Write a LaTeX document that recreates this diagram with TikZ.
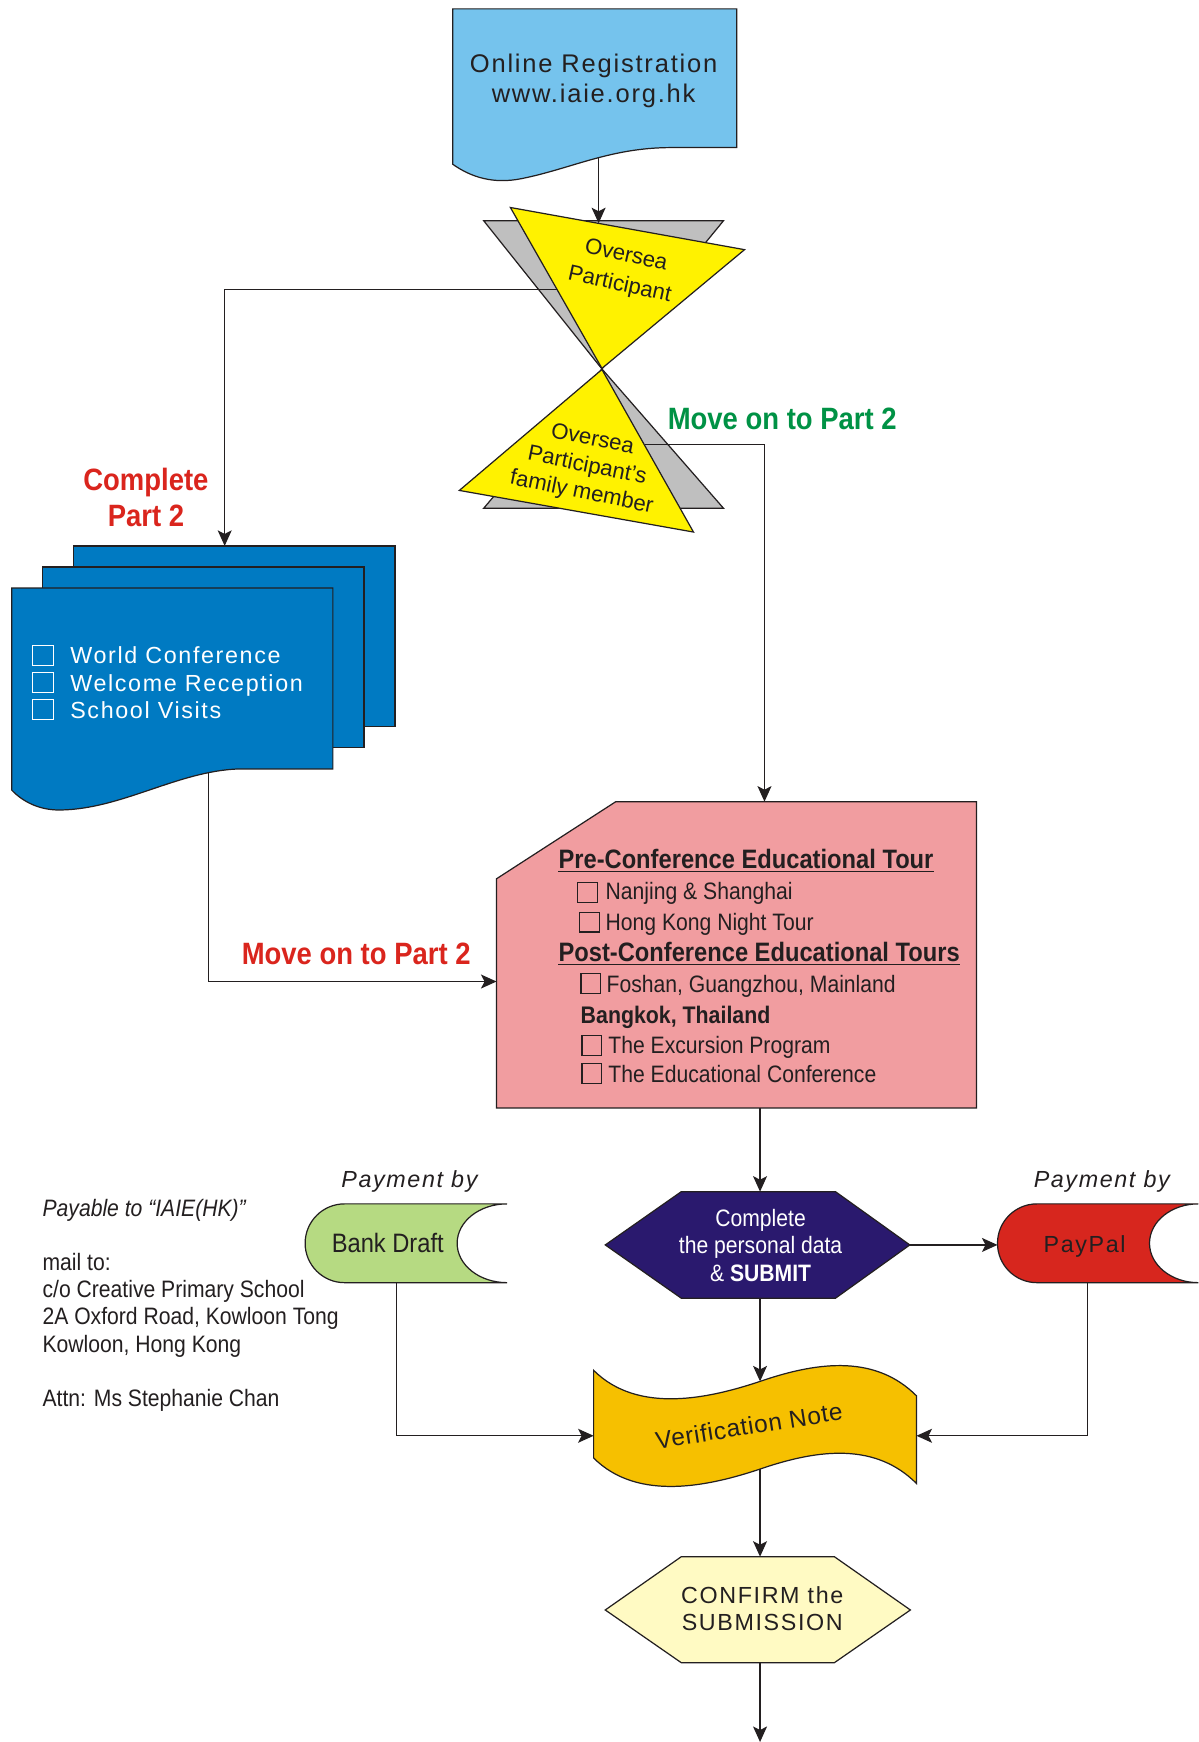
\documentclass[tikz,border=0pt]{standalone}
\usepackage{fontspec}
\setmainfont{Liberation Sans}
\newfontfamily\cnd[FakeStretch=0.89]{Liberation Sans}
\newfontfamily\wde[LetterSpace=7]{Liberation Sans}
\newfontfamily\wdt[LetterSpace=3]{Liberation Sans}
\usetikzlibrary{arrows.meta}
\definecolor{lc}{RGB}{35,31,32}
\definecolor{tc}{RGB}{35,31,32}
\definecolor{regblue}{RGB}{117,195,237}
\definecolor{gry}{RGB}{191,191,191}
\definecolor{ylw}{RGB}{255,242,0}
\definecolor{dblue}{RGB}{0,122,194}
\definecolor{pnk}{RGB}{241,157,160}
\definecolor{navy}{RGB}{42,25,110}
\definecolor{pred}{RGB}{215,38,30}
\definecolor{bgreen}{RGB}{182,218,130}
\definecolor{gold}{RGB}{246,192,0}
\definecolor{cream}{RGB}{255,250,195}
\definecolor{lred}{RGB}{218,37,29}
\definecolor{lgreen}{RGB}{0,146,69}
\tikzset{
  shp/.style={draw=lc, line width=0.55pt, line join=miter},
  con/.style={draw=lc, line width=0.55pt},
  arr/.style={con, -{Stealth[length=7pt,width=6.3pt,inset=1.6pt]}},
  txt/.style={inner sep=0pt, text=tc},
  cb/.style={draw=lc, line width=0.5pt},
  wcb/.style={draw=white, line width=0.6pt},
  fcond/.style={font=\cnd\fontsize{10.7pt}{12.25pt}\selectfont},
  fhead/.style={font=\cnd\bfseries\fontsize{12pt}{14pt}\selectfont},
  fbig/.style={font=\cnd\bfseries\fontsize{13.9pt}{16.5pt}\selectfont},
  fwide/.style={font=\wde\fontsize{10.5pt}{12.25pt}\selectfont},
  fover/.style={font=\fontsize{10pt}{13.4pt}\selectfont},
  ul/.style={draw=tc, line width=0.6pt}
}
\begin{document}
\begin{tikzpicture}[x=0.5pt,y=-0.5pt]
\useasboundingbox (0,0) rectangle (1080,1570);
\fill[white] (0,0) rectangle (1080,1570);

% Online registration document
\filldraw[shp, fill=regblue] (408,8) -- (664,8) -- (664,133) -- (605,133)
  .. controls (550,133) and (515,152) .. (470,161)
  .. controls (445,166) and (425,160) .. (408,148) -- cycle;
\node[txt, align=center, font=\wde\fontsize{11.5pt}{13.5pt}\selectfont] (reg) at (535,72.5) {Online Registration\\www.iaie.org.hk};
\coordinate (regB) at (539.5,142);

% hourglass
\filldraw[shp, fill=gry] (436,199) -- (652,199) -- (542.5,332.5) -- cycle;
\filldraw[shp, fill=gry] (436,458) -- (652,458) -- (542.5,332.5) -- cycle;
\filldraw[shp, fill=ylw] (460,187) -- (671,225) -- (542.5,332) -- cycle;
\filldraw[shp, fill=ylw] (542.5,333) -- (414,442) -- (625,479.5) -- cycle;
\node[txt, fover, align=center, rotate=-12.5] (ovs) at (561.3,244) {Oversea\\Participant};
\node[txt, align=center, rotate=-11.5, font=\fontsize{10pt}{12.2pt}\selectfont] (fam) at (529,420.5) {Oversea\\Participant’s\\family member};
\coordinate (ovsT) at (539.5,201.2);
\coordinate (ovsL) at (502,261);
\coordinate (famR) at (581,400.6);

% document stack
\filldraw[shp, fill=dblue] (66,492) rectangle (356,655);
\filldraw[shp, fill=dblue] (38,511) rectangle (328,674);
\filldraw[shp, fill=dblue] (10.5,530) -- (300,530) -- (300,693) -- (215,693)
  .. controls (160,695) and (110,729) .. (55,730)
  .. controls (35,730.5) and (20,722) .. (10.5,712) -- cycle;
\draw[wcb] (29.5,581.6) rectangle ++(18.5,18);
\draw[wcb] (29.5,606.3) rectangle ++(18.5,18);
\draw[wcb] (29.5,630.6) rectangle ++(18.5,18);
\node[txt, text=white, anchor=west, align=left, fwide] (list) at (63,615.3) {World Conference\\Welcome Reception\\School Visits};
\coordinate (stackT) at (202.5,492);
\coordinate (stackB) at (188,696);

% labels
\node[txt, text=lred, align=center, fbig] (cp2) at (131.5,448.5) {Complete\\Part 2};
\node[txt, text=lgreen, fbig] (mv1) at (705,377.2) {Move on to Part 2};
\node[txt, text=lred, fbig] (mv2) at (321,859.6) {Move on to Part 2};

% pink box
\filldraw[shp, fill=pnk] (447.5,792) -- (555,722.5) -- (880,722.5) -- (880,998.5) -- (447.5,998.5) -- cycle;
\coordinate (pinkT) at (689,722.5);
\coordinate (pinkL) at (447.5,884.6);
\coordinate (pinkB) at (685,998.5);
\node[txt, fhead, anchor=base west] (h1) at (503,783) {Pre-Conference Educational Tour};
\draw[ul] ([yshift=-1.1pt]h1.base west) -- ([yshift=-1.1pt]h1.base east);
\draw[cb] (520.6,795) rectangle ++(18,18);
\node[txt, fcond, anchor=base west] (t1) at (545.5,811) {Nanjing \& Shanghai};
\draw[cb] (522,822) rectangle ++(18,18);
\node[txt, fcond, anchor=base west] (t2) at (545.5,838.6) {Hong Kong Night Tour};
\node[txt, fhead, anchor=base west] (h2) at (503,867) {Post-Conference Educational Tours};
\draw[ul] ([yshift=-1.1pt]h2.base west) -- ([yshift=-1.1pt]h2.base east);
\draw[cb] (523.6,877) rectangle ++(18,18);
\node[txt, fcond, anchor=base west] (t3) at (546.4,894.8) {Foshan, Guangzhou, Mainland};
\node[txt, font=\cnd\bfseries\fontsize{10.8pt}{12pt}\selectfont, anchor=base west] (t4) at (523,922.2) {Bangkok, Thailand};
\draw[cb] (524.5,933.3) rectangle ++(18,18);
\node[txt, fcond, anchor=base west] (t5) at (548,949.8) {The Excursion Program};
\draw[cb] (524.5,958.8) rectangle ++(18,18);
\node[txt, fcond, anchor=base west] (t6) at (548,976) {The Educational Conference};

% submit hexagon
\filldraw[shp, fill=navy] (545.5,1122) -- (614,1074) -- (753,1074) -- (820,1122) -- (753,1170) -- (614,1170) -- cycle;
\node[txt, text=white, align=center, fcond] (sub) at (685.5,1122.5) {Complete\\the personal data\\\& \textbf{SUBMIT}};
\coordinate (subT) at (685,1074);
\coordinate (subB) at (685,1170);
\coordinate (subR) at (820,1122);

% paypal
\filldraw[shp, fill=pred] (1080,1085) -- (934.5,1085)
  .. controls (914.9,1085) and (899,1100.9) .. (899,1120.5)
  .. controls (899,1140.1) and (914.9,1156) .. (934.5,1156) -- (1080,1156)
  .. controls (1055.7,1156) and (1036,1140.1) .. (1036,1120.5)
  .. controls (1036,1100.9) and (1055.7,1085) .. (1080,1085) -- cycle;
\node[txt, font=\wde\fontsize{10.5pt}{12pt}\selectfont] (pay) at (977.5,1123) {PayPal};
\node[txt, font=\wde\itshape\fontsize{10.5pt}{12pt}\selectfont] (pb2) at (993,1065) {Payment by};
\coordinate (payL) at (899,1122);
\coordinate (payB) at (980,1156);

% bank draft
\filldraw[shp, fill=bgreen] (457,1085) -- (310.5,1085)
  .. controls (290.9,1085) and (275,1100.9) .. (275,1120.5)
  .. controls (275,1140.1) and (290.9,1156) .. (310.5,1156) -- (457,1156)
  .. controls (432.1,1156) and (412,1140.1) .. (412,1120.5)
  .. controls (412,1100.9) and (432.1,1085) .. (457,1085) -- cycle;
\node[txt, font=\cnd\fontsize{12pt}{14pt}\selectfont] (bank) at (349.5,1120.5) {Bank Draft};
\node[txt, font=\wde\itshape\fontsize{10.5pt}{12pt}\selectfont] (pb1) at (369,1065) {Payment by};
\coordinate (bankB) at (357,1156);

% address
\node[txt, font=\cnd\itshape\fontsize{10.7pt}{12pt}\selectfont, anchor=base west] (a1) at (38,1096.5) {Payable to “IAIE(HK)”};
\node[txt, fcond, anchor=base west] (a2) at (38,1145) {mail to:};
\node[txt, fcond, anchor=base west] (a3) at (38,1169.5) {c/o Creative Primary School};
\node[txt, fcond, anchor=base west] (a4) at (38,1194) {2A Oxford Road, Kowloon Tong};
\node[txt, fcond, anchor=base west] (a5) at (38,1218.5) {Kowloon, Hong Kong};
\node[txt, fcond, anchor=base west] (a6) at (38,1267.5) {Attn: Ms Stephanie Chan};

% verification note
\filldraw[shp, fill=gold] (535,1235) .. controls (575,1275) and (640,1260) .. (685,1245)
  .. controls (740,1226) and (790,1222) .. (826,1258) -- (826,1337)
  .. controls (790,1301) and (740,1305) .. (685,1324)
  .. controls (640,1339) and (575,1354) .. (535,1314) -- cycle;
\node[txt, rotate=9, font=\wdt\fontsize{11pt}{13pt}\selectfont] (ver) at (675,1285) {Verification Note};
\coordinate (verT) at (685,1245);
\coordinate (verB) at (685,1324);
\coordinate (verL) at (535,1294);
\coordinate (verR) at (826,1294);

% confirm hexagon
\filldraw[shp, fill=cream] (545.5,1451) -- (614,1403) -- (752,1403) -- (820.5,1451) -- (752,1498.5) -- (614,1498.5) -- cycle;
\node[txt, align=center, font=\wde\fontsize{10.5pt}{12pt}\selectfont] (cf) at (687,1450) {CONFIRM the\\SUBMISSION};
\coordinate (cfT) at (685,1403);
\coordinate (cfB) at (685,1498.5);
\coordinate (endB) at (685,1570);

% connectors
\draw[arr] (regB) -- (ovsT);
\draw[arr] (ovsL) -| (stackT);
\draw[arr] (famR) -| (pinkT);
\draw[arr] (stackB) |- (pinkL);
\draw[arr] (pinkB) -- (subT);
\draw[arr] (subR) -- (payL);
\draw[arr] (subB) -- (verT);
\draw[arr] (bankB) |- (verL);
\draw[arr] (payB) |- (verR);
\draw[arr] (verB) -- (cfT);
\draw[arr] (cfB) -- (endB);
\end{tikzpicture}
\end{document}
